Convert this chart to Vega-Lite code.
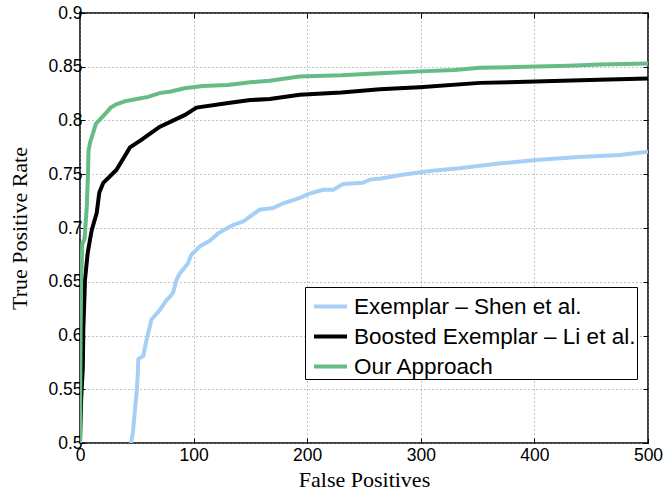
{
  "$schema": "https://vega.github.io/schema/vega-lite/v6.json",
  "autosize": "none",
  "width": 568,
  "height": 430,
  "padding": {"left": 80, "top": 13, "right": 18, "bottom": 53},
  "background": "white",
  "config": {
    "view": {"stroke": "black", "strokeWidth": 1.5},
    "axis": {
      "labelFont": "Liberation Sans",
      "labelFontSize": 17.5,
      "labelColor": "black",
      "titleFont": "Liberation Serif",
      "titleFontSize": 22,
      "titleFontWeight": "normal",
      "titleColor": "black",
      "domain": false,
      "tickColor": "black",
      "tickSize": -5,
      "tickWidth": 1,
      "gridColor": "#888",
      "gridDash": [1, 3],
      "gridWidth": 1,
      "labelOverlap": false,
      "labelFlush": false
    }
  },
  "data": {"values": [
    {"s": "Exemplar – Shen et al.", "fp": 45, "tpr": 0.5},
    {"s": "Exemplar – Shen et al.", "fp": 46.6, "tpr": 0.51},
    {"s": "Exemplar – Shen et al.", "fp": 48.4, "tpr": 0.531},
    {"s": "Exemplar – Shen et al.", "fp": 50, "tpr": 0.549},
    {"s": "Exemplar – Shen et al.", "fp": 51, "tpr": 0.566},
    {"s": "Exemplar – Shen et al.", "fp": 51.3, "tpr": 0.578},
    {"s": "Exemplar – Shen et al.", "fp": 55.7, "tpr": 0.581},
    {"s": "Exemplar – Shen et al.", "fp": 58.6, "tpr": 0.596},
    {"s": "Exemplar – Shen et al.", "fp": 63, "tpr": 0.615},
    {"s": "Exemplar – Shen et al.", "fp": 70.4, "tpr": 0.624},
    {"s": "Exemplar – Shen et al.", "fp": 76.2, "tpr": 0.633},
    {"s": "Exemplar – Shen et al.", "fp": 79, "tpr": 0.636},
    {"s": "Exemplar – Shen et al.", "fp": 82, "tpr": 0.64},
    {"s": "Exemplar – Shen et al.", "fp": 85, "tpr": 0.652},
    {"s": "Exemplar – Shen et al.", "fp": 88, "tpr": 0.658},
    {"s": "Exemplar – Shen et al.", "fp": 95, "tpr": 0.667},
    {"s": "Exemplar – Shen et al.", "fp": 98, "tpr": 0.675},
    {"s": "Exemplar – Shen et al.", "fp": 105.5, "tpr": 0.683},
    {"s": "Exemplar – Shen et al.", "fp": 114, "tpr": 0.688},
    {"s": "Exemplar – Shen et al.", "fp": 121.6, "tpr": 0.695},
    {"s": "Exemplar – Shen et al.", "fp": 135, "tpr": 0.703},
    {"s": "Exemplar – Shen et al.", "fp": 143.6, "tpr": 0.706},
    {"s": "Exemplar – Shen et al.", "fp": 158, "tpr": 0.717},
    {"s": "Exemplar – Shen et al.", "fp": 170, "tpr": 0.7186},
    {"s": "Exemplar – Shen et al.", "fp": 178.8, "tpr": 0.723},
    {"s": "Exemplar – Shen et al.", "fp": 193.5, "tpr": 0.728},
    {"s": "Exemplar – Shen et al.", "fp": 202, "tpr": 0.732},
    {"s": "Exemplar – Shen et al.", "fp": 214, "tpr": 0.7356},
    {"s": "Exemplar – Shen et al.", "fp": 223, "tpr": 0.7356},
    {"s": "Exemplar – Shen et al.", "fp": 231.6, "tpr": 0.741},
    {"s": "Exemplar – Shen et al.", "fp": 249, "tpr": 0.742},
    {"s": "Exemplar – Shen et al.", "fp": 255, "tpr": 0.745},
    {"s": "Exemplar – Shen et al.", "fp": 265, "tpr": 0.746},
    {"s": "Exemplar – Shen et al.", "fp": 281, "tpr": 0.749},
    {"s": "Exemplar – Shen et al.", "fp": 308, "tpr": 0.753},
    {"s": "Exemplar – Shen et al.", "fp": 334, "tpr": 0.7556},
    {"s": "Exemplar – Shen et al.", "fp": 369, "tpr": 0.76},
    {"s": "Exemplar – Shen et al.", "fp": 404, "tpr": 0.7635},
    {"s": "Exemplar – Shen et al.", "fp": 439, "tpr": 0.766},
    {"s": "Exemplar – Shen et al.", "fp": 475, "tpr": 0.768},
    {"s": "Exemplar – Shen et al.", "fp": 500, "tpr": 0.771},
    {"s": "Boosted Exemplar – Li et al.", "fp": 0, "tpr": 0.5},
    {"s": "Boosted Exemplar – Li et al.", "fp": 1, "tpr": 0.54},
    {"s": "Boosted Exemplar – Li et al.", "fp": 2.5, "tpr": 0.571},
    {"s": "Boosted Exemplar – Li et al.", "fp": 2.9, "tpr": 0.605},
    {"s": "Boosted Exemplar – Li et al.", "fp": 4.4, "tpr": 0.652},
    {"s": "Boosted Exemplar – Li et al.", "fp": 6.8, "tpr": 0.677},
    {"s": "Boosted Exemplar – Li et al.", "fp": 10.3, "tpr": 0.698},
    {"s": "Boosted Exemplar – Li et al.", "fp": 14.7, "tpr": 0.714},
    {"s": "Boosted Exemplar – Li et al.", "fp": 17, "tpr": 0.733},
    {"s": "Boosted Exemplar – Li et al.", "fp": 20.5, "tpr": 0.742},
    {"s": "Boosted Exemplar – Li et al.", "fp": 32, "tpr": 0.754},
    {"s": "Boosted Exemplar – Li et al.", "fp": 44, "tpr": 0.775},
    {"s": "Boosted Exemplar – Li et al.", "fp": 54, "tpr": 0.782},
    {"s": "Boosted Exemplar – Li et al.", "fp": 70, "tpr": 0.794},
    {"s": "Boosted Exemplar – Li et al.", "fp": 92, "tpr": 0.805},
    {"s": "Boosted Exemplar – Li et al.", "fp": 102.6, "tpr": 0.812},
    {"s": "Boosted Exemplar – Li et al.", "fp": 132, "tpr": 0.8166},
    {"s": "Boosted Exemplar – Li et al.", "fp": 150, "tpr": 0.819},
    {"s": "Boosted Exemplar – Li et al.", "fp": 167, "tpr": 0.82},
    {"s": "Boosted Exemplar – Li et al.", "fp": 193.5, "tpr": 0.824},
    {"s": "Boosted Exemplar – Li et al.", "fp": 230, "tpr": 0.826},
    {"s": "Boosted Exemplar – Li et al.", "fp": 264, "tpr": 0.829},
    {"s": "Boosted Exemplar – Li et al.", "fp": 281, "tpr": 0.83},
    {"s": "Boosted Exemplar – Li et al.", "fp": 299, "tpr": 0.831},
    {"s": "Boosted Exemplar – Li et al.", "fp": 352, "tpr": 0.835},
    {"s": "Boosted Exemplar – Li et al.", "fp": 393, "tpr": 0.836},
    {"s": "Boosted Exemplar – Li et al.", "fp": 457, "tpr": 0.838},
    {"s": "Boosted Exemplar – Li et al.", "fp": 500, "tpr": 0.839},
    {"s": "Our Approach", "fp": 0, "tpr": 0.5},
    {"s": "Our Approach", "fp": 0.5, "tpr": 0.6},
    {"s": "Our Approach", "fp": 1, "tpr": 0.65},
    {"s": "Our Approach", "fp": 2, "tpr": 0.685},
    {"s": "Our Approach", "fp": 4, "tpr": 0.69},
    {"s": "Our Approach", "fp": 5, "tpr": 0.705},
    {"s": "Our Approach", "fp": 6, "tpr": 0.72},
    {"s": "Our Approach", "fp": 7, "tpr": 0.75},
    {"s": "Our Approach", "fp": 7.5, "tpr": 0.772},
    {"s": "Our Approach", "fp": 9, "tpr": 0.78},
    {"s": "Our Approach", "fp": 11.7, "tpr": 0.789},
    {"s": "Our Approach", "fp": 14, "tpr": 0.797},
    {"s": "Our Approach", "fp": 17.6, "tpr": 0.801},
    {"s": "Our Approach", "fp": 22, "tpr": 0.806},
    {"s": "Our Approach", "fp": 27, "tpr": 0.812},
    {"s": "Our Approach", "fp": 32, "tpr": 0.815},
    {"s": "Our Approach", "fp": 40, "tpr": 0.818},
    {"s": "Our Approach", "fp": 50, "tpr": 0.82},
    {"s": "Our Approach", "fp": 60, "tpr": 0.822},
    {"s": "Our Approach", "fp": 70, "tpr": 0.8255},
    {"s": "Our Approach", "fp": 80, "tpr": 0.827},
    {"s": "Our Approach", "fp": 92, "tpr": 0.83},
    {"s": "Our Approach", "fp": 108, "tpr": 0.832},
    {"s": "Our Approach", "fp": 130, "tpr": 0.833},
    {"s": "Our Approach", "fp": 150, "tpr": 0.8355},
    {"s": "Our Approach", "fp": 167, "tpr": 0.837},
    {"s": "Our Approach", "fp": 193, "tpr": 0.841},
    {"s": "Our Approach", "fp": 230, "tpr": 0.842},
    {"s": "Our Approach", "fp": 264, "tpr": 0.844},
    {"s": "Our Approach", "fp": 299, "tpr": 0.8457},
    {"s": "Our Approach", "fp": 330, "tpr": 0.847},
    {"s": "Our Approach", "fp": 352, "tpr": 0.849},
    {"s": "Our Approach", "fp": 393, "tpr": 0.85},
    {"s": "Our Approach", "fp": 430, "tpr": 0.851},
    {"s": "Our Approach", "fp": 457, "tpr": 0.852},
    {"s": "Our Approach", "fp": 500, "tpr": 0.853}
  ]},
  "layer": [
    {
      "mark": {"type": "line", "strokeWidth": 4, "clip": true},
      "encoding": {
        "x": {"field": "fp", "type": "quantitative", "scale": {"domain": [0, 500], "nice": false},
              "axis": {"title": "False Positives", "values": [0,100,200,300,400,500], "labelPadding": 8, "titlePadding": 6}},
        "y": {"field": "tpr", "type": "quantitative", "scale": {"domain": [0.5, 0.9], "nice": false, "zero": false},
              "axis": {"title": "True Positive Rate", "format": ".2~f", "values": [0.5,0.55,0.6,0.65,0.7,0.75,0.8,0.85,0.9], "labelPadding": 3, "titlePadding": 16}},
        "color": {"field": "s", "type": "nominal",
          "scale": {"domain": ["Exemplar – Shen et al.", "Boosted Exemplar – Li et al.", "Our Approach"], "range": ["#a6cff6", "#000000", "#67bb86"]},
          "legend": {"title": null, "orient": "none", "legendX": 225, "legendY": 274, "symbolType": "stroke", "symbolSize": 1089, "symbolStrokeWidth": 4, "symbolOffset": 6, "labelFont": "Liberation Sans", "labelFontSize": 22.5, "labelColor": "black", "strokeColor": "black", "fillColor": "white", "padding": 1, "rowPadding": -1, "labelOffset": 5, "labelLimit": 400}},
        "order": {"field": "fp", "type": "quantitative"}
      }
    },
    {
      "mark": {"type": "rule", "opacity": 0},
      "encoding": {
        "x": {"field": "fp", "type": "quantitative", "scale": {"domain": [0, 500], "nice": false},
              "axis": {"orient": "top", "title": null, "labels": false, "grid": false, "values": [0,100,200,300,400,500]}},
        "y": {"field": "tpr", "type": "quantitative", "scale": {"domain": [0.5, 0.9], "nice": false, "zero": false},
              "axis": {"orient": "right", "title": null, "labels": false, "grid": false, "values": [0.5,0.55,0.6,0.65,0.7,0.75,0.8,0.85,0.9]}}
      }
    }
  ],
  "resolve": {"axis": {"x": "independent", "y": "independent"}}
}
